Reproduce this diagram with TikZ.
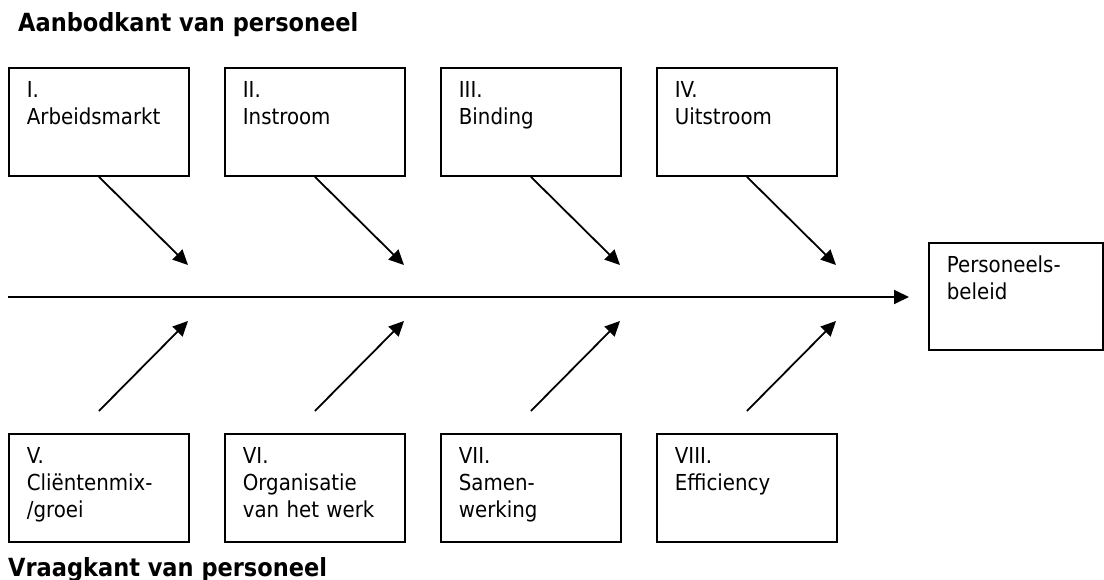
\documentclass[tikz,border=0pt]{standalone}
\usepackage{fontspec}
\setmainfont{DejaVu Sans Condensed}
\usetikzlibrary{arrows.meta,calc}
\begin{document}
\begin{tikzpicture}[x=1pt,y=-1pt,
  factor/.style={draw, line width=1.8pt, anchor=north west, align=left,
    inner xsep=18pt, inner ysep=11pt, text width=144pt, text height=19pt, text depth=67pt,
    font=\fontsize{22}{27}\selectfont},
  flow/.style={line width=1.8pt, -{Triangle[length=15pt,width=14pt]}},
  heading/.style={anchor=base west, inner sep=0pt, font=\bfseries\fontsize{25}{30}\selectfont}]
\useasboundingbox (0,0) rectangle (1104,580);
\node[heading] (supply) at (18,32) {Aanbodkant van personeel};
\node[heading] (demand) at (8,576) {Vraagkant van personeel};
\node[factor, text width=138pt, text depth=66pt] (goal) at (928,242) {Personeels-\\beleid};
% hoofdas
\coordinate (spine) at (8,297);
\draw[flow] (spine) -- ($(spine -| goal.west)+(-19,0)$);
% aanbodkant
\foreach \n/\x/\txt in {1/8/{I.\\Arbeidsmarkt}, 2/224/{II.\\Instroom}, 3/440/{III.\\Binding}, 4/656/{IV.\\Uitstroom}} {
  \node[factor] (top\n) at (\x,67) {\txt};
  \coordinate (tip\n) at (\x+180,265);
  \draw[flow] (top\n.south) -- (tip\n);
}
% vraagkant
\foreach \n/\x/\txt in {1/8/{V.\\Cliëntenmix-\\/groei}, 2/224/{VI.\\Organisatie\\van het werk}, 3/440/{VII.\\Samen-\\werking}, 4/656/{VIII.\\Efficiency}} {
  \node[factor] (bot\n) at (\x,433) {\txt};
  \coordinate (rise\n) at (\x+180,321);
  \draw[flow] ($(bot\n.north)+(0,-22)$) -- (rise\n);
}
\end{tikzpicture}
\end{document}
